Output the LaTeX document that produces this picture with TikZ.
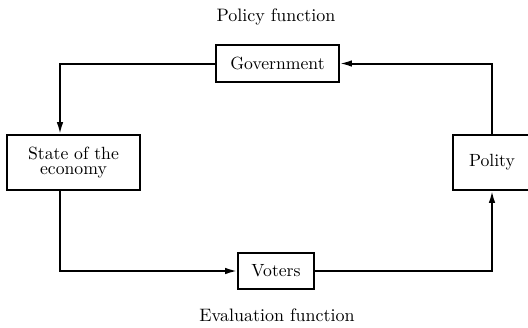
\documentclass[tikz,border=0pt]{standalone}
\usepackage{tikz}
\usetikzlibrary{arrows.meta,positioning}
\tikzset{
  pvbox/.style={rectangle,draw=black,line width=0.8pt,fill=white,inner sep=1pt,
                align=center,font=\fontsize{10.6}{12}\selectfont},
  pvarrow/.style={-{Latex[length=2.6mm,width=1.4mm]},line width=1.2pt,black},
  pvlabel/.style={font=\fontsize{10.8}{12}\selectfont,align=center}
}
\begin{document}
\begin{tikzpicture}[x=0.6pt,y=-0.6pt]
    \useasboundingbox (0,0) rectangle (528,327);
    \node[pvlabel] (pf) at (276,17) {Policy\ function};
    \node[pvlabel] (ef) at (277,315) {Evaluation\ function};
    \node[pvbox,minimum width=73.8pt,minimum height=22.2pt]
      (gov) at (277.5,63.5) {Government};
    \node[pvbox,minimum width=79.8pt,minimum height=33pt]
      (soe) at (73.5,162.5) {State of the\\[-3pt]economy};
    \node[pvbox,minimum width=45.6pt,minimum height=21.6pt]
      (vot) at (276,271) {Voters};
    \node[pvbox,minimum width=46.8pt,minimum height=33pt]
      (pol) at (492,162.5) {Polity};
    \draw[pvarrow] (pol.north) |- (gov.east);
    \draw[pvarrow] (gov.west) -| ([xshift=-8.1pt]soe.north);
    \draw[pvarrow] ([xshift=-8.1pt]soe.south) |- (vot.west);
    \draw[pvarrow] (vot.east) -| (pol.south);
  \end{tikzpicture}
\end{document}
